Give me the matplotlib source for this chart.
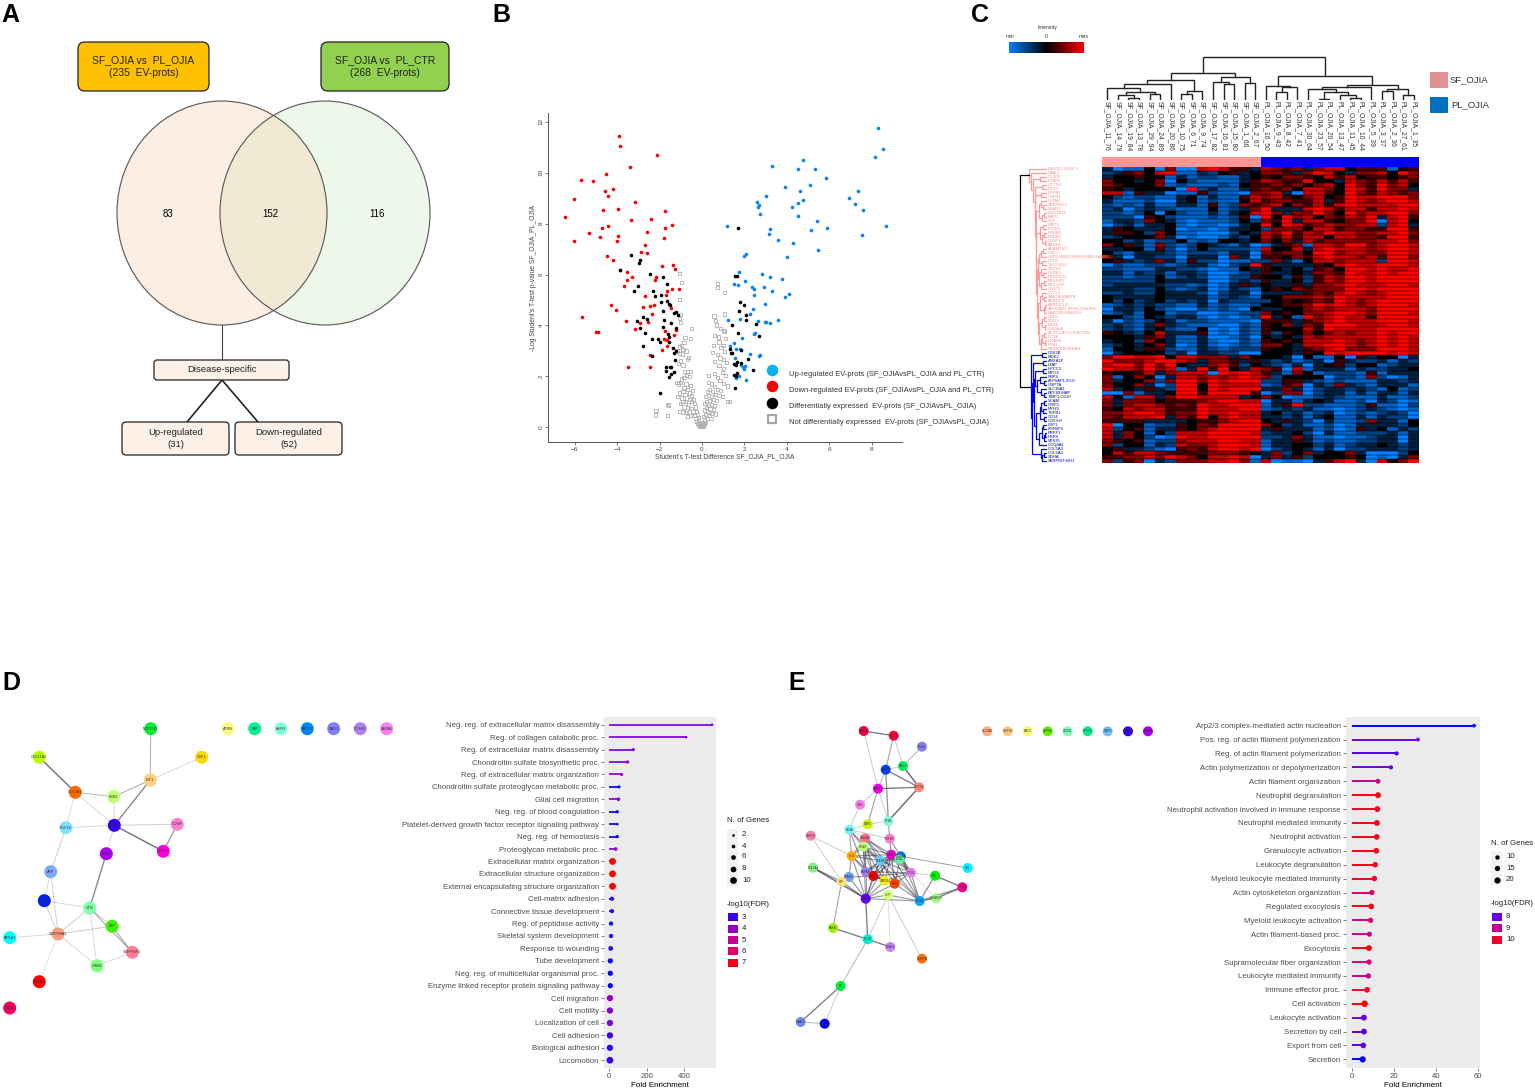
import numpy as np
import matplotlib
matplotlib.use('Agg')
import matplotlib.pyplot as plt
from matplotlib.collections import LineCollection
from matplotlib.colors import LinearSegmentedColormap
from matplotlib.patches import Ellipse, FancyBboxPatch, Rectangle

plt.rcParams['font.family'] = ['Liberation Sans', 'DejaVu Sans']

W, H = 1535, 1089

# ---- panel A: Venn
venn_counts = [83, 152, 116]
box_titles = ['SF_OJIA vs  PL_OJIA\n(235  EV-prots)', 'SF_OJIA vs  PL_CTR\n(268  EV-prots)']
split_titles = ['Up-regulated\n(31)', 'Down-regulated\n(52)']

# ---- panel B: volcano (difference, -log p)
red_x = [-6.48,-6.04,-5.71,-5.14,-4.59,-4.54,-4.45,-4.18,-3.93,-3.85,-3.41,-2.12,-4.67,-3.98,-3.18,-3.36,-2.42,-1.73,-1.40,-1.73,-2.58,-1.79,-5.31,-4.72,-4.42,-4.83,-6.04,-3.99,-3.95,-2.67,-2.86,-2.61,-4.48,-4.20,-3.87,-3.54,-3.29,-3.54,-3.69,-2.17,-2.23,-1.90,-1.35,-1.27,-2.70,-2.80,-2.45,-2.25,-1.65,-1.70,-1.42,-1.10,-1.46,-2.37,-4.28,-4.06,-5.66,-3.58,-2.53,-3.16,-2.92,-4.98,-4.92,-1.24,-1.32,-1.75,-1.78,-1.64,-1.67,-1.87,-2.44,-3.51,-2.44]
red_y = [8.25,8.98,9.71,9.66,9.29,9.96,9.08,9.35,11.43,11.05,10.24,10.68,8.55,8.57,8.86,8.14,8.18,8.48,7.93,7.83,7.66,7.42,7.62,7.81,7.89,7.49,7.30,7.33,7.51,7.15,6.87,6.86,6.73,6.56,6.18,6.11,5.92,5.79,5.55,5.92,5.77,6.35,6.37,6.23,5.16,4.71,4.75,4.79,5.34,5.20,5.45,5.42,4.67,4.46,4.79,4.59,4.32,4.18,4.15,3.85,4.08,3.74,3.74,3.81,3.64,3.80,3.47,3.43,3.19,3.04,2.85,2.37,2.37]
black_x = [-3.36,-2.91,-2.99,-3.88,-2.44,-1.82,-3.00,-3.21,-1.64,-2.33,-2.22,-1.92,-1.95,-1.67,-1.54,-1.51,-1.24,-1.32,-1.13,-1.86,-3.08,-2.77,-2.58,-1.81,-1.45,-1.82,-2.91,-2.69,-1.23,-1.59,-1.56,-2.36,-2.08,-1.97,-1.56,-2.77,-1.35,-1.24,-1.31,-2.37,-1.29,-1.71,-1.51,-1.46,-1.68,-1.32,-1.45,-1.54,-1.97,
           1.70,1.54,1.65,1.81,1.98,1.75,2.06,2.08,1.43,1.68,2.53,2.67,1.34,1.35,1.43,1.86,1.65,1.86,1.49,1.60,2.15,2.41,1.51,1.59,1.65,1.56]
black_y = [6.75,6.57,6.44,6.18,6.01,5.90,5.54,5.34,5.62,5.35,5.14,5.18,4.93,4.95,4.84,4.79,4.53,4.50,4.40,4.58,4.19,4.35,4.27,4.20,4.08,3.93,3.90,3.69,3.91,3.65,3.56,3.46,3.46,3.34,3.35,3.21,3.12,3.01,2.92,2.79,2.64,2.37,2.38,2.36,2.23,2.19,2.09,1.98,1.36,
           7.81,5.93,5.94,4.92,4.82,4.57,4.40,4.21,4.03,3.70,4.06,3.57,3.09,2.93,2.91,3.02,2.58,2.54,2.47,2.45,2.70,2.26,2.04,2.02,2.15,1.54]
blue_x = [8.29,8.55,8.18,3.30,4.75,4.51,5.33,5.83,3.90,5.11,4.64,3.02,2.61,2.69,2.66,2.72,4.23,4.53,4.78,4.53,6.93,7.34,7.20,7.61,5.44,5.90,5.13,3.21,3.14,1.19,3.58,4.31,5.49,7.56,8.68,4.01,2.09,1.98,1.76,2.85,3.21,3.76,2.04,1.53,1.71,2.34,2.47,2.92,3.30,2.44,4.09,3.92,2.96,2.41,2.28,1.24,1.81,2.66,2.97,3.02,3.19,3.60,2.48,2.47,1.90,1.49,1.34,1.59,1.79,2.26,2.74,2.70,1.54,1.95,1.82,2.04,1.97,1.76,1.59,2.09]
blue_y = [11.75,10.94,10.63,10.27,10.51,10.16,10.13,9.78,9.44,9.52,9.29,9.07,8.86,8.72,8.66,8.36,8.66,8.81,8.93,8.30,8.99,9.29,8.76,8.55,8.12,7.83,7.76,7.79,7.59,7.89,7.36,7.24,6.98,7.54,7.92,6.70,6.81,6.73,6.11,6.03,5.90,5.82,5.76,5.64,5.59,5.52,5.42,5.51,5.34,5.18,5.22,5.10,4.86,4.65,4.46,4.20,4.27,4.19,4.15,4.15,4.11,4.23,3.69,3.66,3.52,3.31,3.18,3.09,3.06,2.89,2.83,2.79,2.74,2.38,2.45,2.42,2.28,2.02,1.92,1.86]
gray_x = [-1.07,-0.98,-1.08,-1.02,-1.05,-1.0,-0.49,-0.55,-0.8,-0.85,-0.95,-0.9,-1.08,-1.18,-1.05,-0.93,-0.75,-0.62,-0.7,-1.0,-1.1,-0.9,-0.82,-0.68,-0.55,-0.72,-0.6,-0.85,-0.95,-1.18,-1.1,-1.0,-0.75,-0.55,-0.85,-0.7,-0.9,-1.05,-0.8,-0.6,-0.45,-0.5,-1.15,-0.95,-0.72,-0.58,-0.4,-0.9,-0.78,-1.02,-0.5,-0.62,-0.35,-0.85,-0.7,-0.48,-0.3,-1.05,-0.9,-0.78,-0.6,-0.42,-0.25,-0.2,-0.55,-0.7,-0.35,-0.28,-0.18,-0.15,-0.25,-0.12,-0.2,-0.08,-0.15,-0.05,-0.1,-1.6,-1.58,-1.62,-2.17,-2.18,
          0.72,0.72,1.06,1.07,0.57,0.62,0.7,0.86,1.02,1.07,1.12,0.6,0.78,0.8,0.55,0.9,1.0,1.05,0.5,0.75,0.85,1.0,1.15,0.6,1.0,0.8,0.95,1.1,0.3,0.6,0.75,0.85,1.0,1.2,0.3,0.45,0.6,0.72,0.88,0.35,0.5,0.25,0.65,0.8,0.95,0.3,0.45,0.15,0.55,0.7,1.2,1.3,0.35,0.2,0.45,0.1,0.3,0.6,0.22,0.38,0.55,0.12,0.28,0.45,0.62,0.18,0.35,0.08,0.25,0.42,0.12,0.18,0.05,0.1,0.02,0.06,0.0,0.03,-0.02]
gray_y = [6.04,5.69,5.02,4.42,4.27,4.12,3.87,3.48,3.52,3.32,3.22,3.05,3.15,3.0,2.9,2.88,3.0,2.75,2.65,2.6,2.5,2.45,2.2,2.2,2.2,2.05,2.0,1.95,1.9,1.75,1.7,1.75,1.7,1.65,1.55,1.5,1.4,1.35,1.3,1.35,1.45,1.25,1.2,1.15,1.15,1.1,1.1,1.0,1.0,0.95,1.0,0.9,0.95,0.8,0.78,0.75,0.8,0.62,0.6,0.58,0.6,0.62,0.62,0.5,0.47,0.42,0.45,0.35,0.38,0.28,0.22,0.18,0.15,0.12,0.08,0.05,0.03,0.9,0.85,0.46,0.67,0.48,
          5.64,5.48,5.3,4.45,4.37,4.18,4.02,3.88,3.8,3.78,3.5,3.62,3.55,3.35,3.2,3.12,3.2,2.98,2.95,2.85,2.72,2.65,2.55,2.58,2.32,2.42,2.15,2.05,2.05,2.12,1.95,1.85,1.72,1.62,1.75,1.7,1.6,1.5,1.45,1.5,1.42,1.4,1.3,1.25,1.2,1.25,1.22,1.2,1.1,1.05,1.02,1.02,1.05,1.02,0.9,0.92,0.85,0.85,0.78,0.72,0.7,0.68,0.62,0.55,0.52,0.5,0.45,0.42,0.35,0.35,0.28,0.2,0.2,0.12,0.1,0.05,0.02,0.14,0.08]
volcano_legend = ['Up-regulated EV-prots (SF_OJIAvsPL_OJIA and PL_CTR)',
                  'Down-regulated EV-prots (SF_OJIAvsPL_OJIA and PL_CTR)',
                  'Differentially expressed  EV-prots (SF_OJIAvsPL_OJIA)',
                  'Not differentially expressed  EV-prots (SF_OJIAvsPL_OJIA)']

# ---- panel C: heatmap, one digit per cell, 0 = min blue, 4 = black, 8 = max red
heat_rows = [
    "30114 06007 87553 76563 67745 55145", "23564 78113 24534 66536 87436 67486",
    "34454 41312 21134 54665 47574 55456", "64434 60421 11135 76558 44376 57575",
    "65444 61211 12145 56564 67486 58674", "54344 44082 31135 65647 76487 58663",
    "77153 30115 21106 67307 75486 57656", "42122 11341 31157 67546 74587 78886",
    "31112 00341 21147 56655 73587 67887", "21213 11331 51265 67465 75787 77788",
    "23023 22111 41236 83337 87577 57787", "22124 04211 31347 86366 86486 77886",
    "22205 42111 21250 84867 46576 83785", "13326 43101 11242 65837 75466 80784",
    "02313 34101 10134 84875 67667 72783", "35433 34011 01334 26664 77566 55885",
    "35542 64110 00243 76857 68776 67786", "23444 63010 01324 75757 74776 65885",
    "44231 22412 14434 64637 56666 67786", "64531 62124 32130 13561 77688 67887",
    "33441 52024 22221 74473 78777 67887", "42133 32122 21330 65664 88677 66887",
    "63033 22033 30630 55465 78776 75886", "45323 63152 20112 26314 77677 72887",
    "02112 21233 10238 53333 54787 78887", "22111 33221 01143 54342 56488 78778",
    "33132 31332 00123 53343 66587 78788", "22122 41232 00225 44252 57688 78888",
    "22222 43333 00232 53342 57688 78888", "23333 32212 01353 43353 66787 77887",
    "33322 42123 01321 45465 66688 78888", "22322 43332 02330 33335 65787 67888",
    "43333 43333 12321 44666 76877 77888", "42423 42323 03222 24545 65876 78888",
    "12323 22113 12112 44556 87876 78887", "03324 21002 12104 33446 76777 68888",
    "12314 41220 01122 64546 67887 68887", "44214 32331 01012 83418 67877 58888",
    "30212 43122 11110 55535 67877 78887", "23213 63211 10021 54636 58887 77887",
    "23213 42114 01021 54447 58777 78888", "54324 73335 01021 52546 46767 78788",
    "44435 63113 00120 43437 67777 78787", "34426 43113 10021 54547 77876 78787",
    "23434 63013 10121 66437 78876 78787", "14435 52113 21222 54435 67866 68887",
    "03444 42303 32200 44435 48788 88787", "68877 84776 66364 44304 11405 34403",
    "86667 88763 66535 32312 30532 23132", "78868 68433 67524 32130 34524 41233",
    "87768 67138 58437 65071 33313 22334", "54457 36777 08787 53164 12221 51333",
    "61464 03776 76787 62444 40221 62013", "63446 26886 87888 22553 21211 13323",
    "64463 02884 87777 12560 32632 13331", "73435 32884 87888 33630 23323 21412",
    "00613 34885 88885 02660 23313 13313", "74177 36887 77734 64011 23211 13112",
    "63666 45556 78877 03313 43112 03201", "63677 65658 77888 13582 21112 51102",
    "54767 75558 77788 12323 11012 32101", "66788 75668 77877 34231 23012 12320",
    "65777 83658 47877 33231 34113 13220", "55553 33345 56788 43532 03112 63314",
    "80441 22546 58888 64231 12013 33324", "72451 33546 78888 35333 12015 34132",
    "73641 42777 88887 23342 03112 22313", "73642 01877 88888 22363 11011 23303",
    "65451 22677 78877 13353 12112 23303", "62441 32766 78887 13344 23123 34323",
    "45332 10565 78878 02343 13022 33323", "47577 65555 66654 36246 34463 00024",
    "55667 68764 77870 36352 44454 01036", "62560 32666 77861 70110 35783 07468",
]
sample_labels = ['SF_OJIA_11_76','SF_OJIA_14_79','SF_OJIA_19_84','SF_OJIA_13_78','SF_OJIA_29_94','SF_OJIA_24_89','SF_OJIA_20_86','SF_OJIA_10_75','SF_OJIA_6_71','SF_OJIA_9_74','SF_OJIA_17_82','SF_OJIA_16_81','SF_OJIA_15_80','SF_OJIA_1_66','SF_OJIA_2_67',
                 'PL_OJIA_16_50','PL_OJIA_9_43','PL_OJIA_8_42','PL_OJIA_7_41','PL_OJIA_30_64','PL_OJIA_23_57','PL_OJIA_20_54','PL_OJIA_13_47','PL_OJIA_11_45','PL_OJIA_10_44','PL_OJIA_5_39','PL_OJIA_3_37','PL_OJIA_2_36','PL_OJIA_27_61','PL_OJIA_1_35']
# merge height between neighbouring leaves, the tree is rebuilt from these
sample_gaps = [11.7,4.7,2.3,8.3,6,16,20,5.7,9.3,27.3,17.7,16,22.7,17.3,43.3,14.3,7.7,13.3,24,10.7,1,8.3,4.7,1.7,13.3,14.7,9.3,11,5]
gene_gaps = [18,16,7,14,5,12.5,6,12,6,4,8,3,5,11,4,7,3,5,2.5,11,4,6,8,5,9,6,4,8,3,6,10.5,5,3,7,2,3,9,3,5,2,8,3,5,2,6,26.7,
             5,16,4,14,4,12,7,3,10,6,3,13,3,6,4,7,3,11,4,5,2,3,8,15,6,3,5]
gene_labels = ['IGKV1D-8;IGK-1','GAA-1','CD109','PTBN1','GCTN2','BTD2','DEFB1','CHFR1','LYRM1','SERPINF1','SSAR2','DSG2B12','MRP1','CFP','WNT3','PTPR2','PGBB1','PGBB2','CD5P1','ABHD5','ADAMTS2','GBP1',
               'HBB1;HBB2;HBB3;HBB4;LAMB1','DTD1','THOC4;E2','CNTF2','DYRK3','PRDX6;E1','PRKRIP2','MCL1;KF','CHST1','GYLL1','RAB7A;RAB7B','ARRDC3','ARRDC1;B','ARHGAP1;RPS2;CDK4P1','RAB31B;RAB31M','GSDC','DRD3','EIF4E','CHGA;A','ACTN1;ACTC1;ACTB2','PCSK','DNAH8','PYB1','SERPINB5/B6/A4']
gene_labels_blue = ['CD63B','MDK2','ANXA1P','LTAP','HPCC2','MYO6','RBP4','ATP6AP1;2GG','GNPTA','SLC38A1','EEF1B;MAP','TIMP1;CD47','VCAM','CRIP1','MYH9','TGFB1','CD14','CD59;H','LRP1','FGFBP2','PRPF1','HSP8','VPS35','COQ8A1','COL5A3','COL5A2','SDHA','SERPINF;BH1']
gene_labels_all = gene_labels + gene_labels_blue

# ---- panel D: terms, fold enrichment, -log10(FDR), number of genes
terms_d = ['Neg. reg. of extracellular matrix disassembly','Reg. of collagen catabolic proc.','Reg. of extracellular matrix disassembly','Chondroitin sulfate biosynthetic proc.','Reg. of extracellular matrix organization','Chondroitin sulfate proteoglycan metabolic proc.','Glial cell migration','Neg. reg. of blood coagulation','Platelet-derived growth factor receptor signaling pathway','Neg. reg. of hemostasis','Proteoglycan metabolic proc.','Extracellular matrix organization','Extracellular structure organization','External encapsulating structure organization','Cell-matrix adhesion','Connective tissue development','Reg. of peptidase activity','Skeletal system development','Response to wounding','Tube development','Neg. reg. of multicellular organismal proc.','Enzyme linked receptor protein signaling pathway','Cell migration','Cell motility','Localization of cell','Cell adhesion','Biological adhesion','Locomotion']
fold_d = [547,409,129,99,67,53,50,44,44,44,35,19,19,19,16,16,11,11,9,7,7,7,5,5,5,5,5,5]
fdr_d = [3.6,3.6,3.6,3.6,3.9,2.6,3.8,2.6,2.6,2.6,3.7,7.3,7.3,7.3,3.0,3.0,2.6,2.6,2.9,2.6,2.5,2.5,3.9,3.6,3.6,3.0,3.0,3.0]
genes_d = [2,2,3,3,3,3,4,3,2,3,4,10,10,10,5,5,5,5,6,7,7,7,9,9,9,9,9,10]

# ---- panel E
terms_e = ['Arp2/3 complex-mediated actin nucleation','Pos. reg. of actin filament polymerization','Reg. of actin filament polymerization','Actin polymerization or depolymerization','Actin filament organization','Neutrophil degranulation','Neutrophil activation involved in immune response','Neutrophil mediated immunity','Neutrophil activation','Granulocyte activation','Leukocyte degranulation','Myeloid leukocyte mediated immunity','Actin cytoskeleton organization','Regulated exocytosis','Myeloid leukocyte activation','Actin filament-based proc.','Exocytosis','Supramolecular fiber organization','Leukocyte mediated immunity','Immune effector proc.','Cell activation','Leukocyte activation','Secretion by cell','Export from cell','Secretion']
fold_e = [58.3,31.5,21.3,18.6,12.4,12.4,12.1,11.9,11.8,11.6,11.1,10.7,9.5,9.2,8.9,8.3,8.1,8.1,7.8,7.2,6.0,5.7,5.7,5.4,5.1]
fdr_e = [7.4,8.0,7.85,8.0,9.0,10.3,10.1,10.2,10.2,10.2,10.2,10.1,9.4,10.3,9.3,9.0,10.3,9.3,9.1,10.0,10.4,8.0,7.9,7.9,7.4]
genes_e = [6,7,9,9,13,18,18,18,17,17,16,16,15,17,15,14,18,15,15,17,22,18,18,17,20]

# ---- networks: layout of each graph as drawn, with node colours
net_d_names = ['NOTCH2','ATRN','FAP','ASPN','APLP2','DAG1','PCSK6','LAMA5','COL11A1','CSF1','IGF1','COL2A1','FBN1','VCAN','FGF18','COMP','CHST3','BGN','APP','GAS6','VTN','LBP','SERPINA1','APOA1','SERPINF1','ORM2','F13A1','CD44']
net_d_x = [150.7,228,254.7,281,307.3,333.7,360.3,386.7,39.3,201.7,150.3,75.3,113.7,114.3,66,177.3,163.3,106.3,50.7,44.3,89.7,112,58,9.7,132.3,97,39.3,9.7]
net_d_y = [728.7,728.7,728.7,728.7,728.7,728.7,728.7,728.7,757.3,757.3,780,792.3,796.7,825.3,827.7,824.3,851.3,853.7,871.7,900.7,908,926.3,934,937.7,952.3,965.7,981.7,1008]
net_d_colors = ['#00ee33','#fafa80','#00f08a','#80ffdd','#0088ff','#8080f8','#b080f0','#f880f0','#b8ff00','#ffd800','#ffd080','#ff6a00','#c0ff70','#3300ee','#80e0ff','#ff80d0','#ff00e0','#aa00ee','#80a8f8','#0022ee','#80ffa8','#40f000','#ff9980','#00ffff','#ff8095','#80ff80','#ff0000','#f00060']
net_d_edges = [('NOTCH2','IGF1',.45),('COL11A1','COL2A1',.8),('CSF1','IGF1',.25),('IGF1','FBN1',.45),('IGF1','VCAN',.7),('COL2A1','FBN1',.4),('COL2A1','VCAN',.25),('COL2A1','FGF18',.25),('FBN1','VCAN',.25),('FGF18','VCAN',.25),('VCAN','COMP',.3),('VCAN','CHST3',.8),('COMP','CHST3',.6),('VCAN','BGN',.25),('BGN','VTN',.7),('FGF18','APP',.3),('APP','GAS6',.25),('APP','SERPINA1',.3),('GAS6','VTN',.25),('GAS6','SERPINA1',.3),('VTN','SERPINA1',.3),('VTN','LBP',.3),('VTN','SERPINF1',.5),('VTN','ORM2',.25),('LBP','SERPINA1',.3),('LBP','SERPINF1',.5),('SERPINA1','APOA1',.25),('SERPINA1','ORM2',.25),('SERPINA1','F13A1',.2),('ORM2','SERPINF1',.25)]

net_e_names = ['CAPZB','ACTB','CD44','ARPC2','RAC1','ARPC3','ACTR2','GSN','CAP1','PFN1','FLNA','HSPG2','ANXA1','TGFB1','ITGB1','CLU','MMP9','S100A9','LCN2','ELANE','SKI','COL6A1','FN1','CD63','HSPA8','SPARC','ALB','GAPDH','CTSG','MPO','LTF','CD9','SLPI','ITGA2','ADAMTS','VASN','PLOD','LGALS','SERPIN','C3','ICAM1','CD81',
               'SLC3A2','HIST2H','ENO1','HSP90','SEC61','PTGS1','CAPG','ACTN1','CALM1']
net_e_x = [863.7,893.7,922,885.7,903,878,919,860,867.7,888.3,849.3,810.7,865.3,889.7,863.3,851.7,891.3,900.7,899.3,880.3,967.7,813,935,962.3,865.7,849,873.3,884.7,911,894.7,841.7,865.7,888,919.7,936,833,867.7,890.3,922,840.7,800.7,824.7,
           987.3,1007.7,1027.7,1047.7,1067.7,1087.7,1107.7,1128,1148]
net_e_y = [731,735.7,746.7,769.7,766,788.7,787.3,804.7,824.3,821,829.7,835.7,838.3,838.7,846.7,856,854.7,856.3,859.3,860.7,868,867.7,875.7,887.3,871.7,877,876,880.7,872.7,883.7,881.7,898.7,895,901,898.3,928,939.3,947,958.7,986,1022,1023.7,
           731.3,731.3,731.3,731.3,731.3,731.3,731.3,731.3,731.3]
net_e_colors = ['#f00040','#ff0030','#8a80f0','#0040ee','#00ee60','#ee00ee','#ff8878','#f880e8','#d0f000','#80f8d8','#70f8f8','#f880b0','#ff7088','#ff80d0','#c0ff70','#ffaa00','#ee00c0','#0070f0','#60f0a0','#60d0f8','#00f0ff','#80f080','#00ee00','#f00090','#a080f0','#70a0f0','#f00000','#f8f000','#e080f0','#ff4000','#ffe080','#6000ee','#d8ff80','#00aaf0','#a0f880','#a0f000','#00f0c8','#c880f0','#ff7000','#00ee40','#7088f0','#0000ee',
                '#ffaa80','#ffc880','#f8f870','#60f000','#80f8b8','#00f090','#70c0f8','#3300e8','#aa00ee']
net_e_edges = [(0,1,.7),(0,5,.3),(1,3,.5),(1,4,.3),(2,4,.4),(3,4,.3),(3,5,.4),(3,6,.7),(4,6,.8),(3,9,.6),(5,6,.7),(5,9,.3),(6,9,.8),(5,7,.3),(5,8,.5),(7,10,.3),(8,9,.3),(8,10,.3),(9,13,.5),(10,12,.3),(10,13,.3),(10,15,.5),(11,15,.3),(11,30,.3),(21,31,.8),(21,30,.6),(30,31,.6),(30,35,.5),(35,36,.7),(36,37,.7),(31,36,.7),(36,32,.3),(32,37,.2),(32,38,.3),(36,39,.4),(39,40,.7),(39,41,.3),(40,41,.4),(17,20,.3),(16,20,.3),(22,23,.7),(22,33,.6),(33,34,.7),(33,23,.6),(34,23,.7),(28,22,.3),(28,34,.2)]
net_e_core = [(12,15),(12,16),(12,19),(12,24),(12,26),(12,28),(12,33),(14,15),(14,16),(14,19),(14,24),(14,26),(14,27),(14,31),(14,33),(15,16),(15,19),(15,24),(15,25),(15,26),(15,31),(16,19),(16,24),(16,26),(16,27),(16,28),(16,29),(16,31),(16,33),(17,19),(17,24),(17,26),(17,28),(17,29),(17,33),(18,19),(18,28),(19,24),(19,26),(19,27),(19,28),(19,29),(19,31),(24,26),(24,27),(24,28),(24,29),(24,31),(25,26),(25,31),(26,27),(26,28),(26,29),(26,31),(27,28),(27,31),(28,29),(28,33),(29,31),(29,33),(31,33),(13,16),(13,28),(10,14),(10,19),(10,24),(32,33),(31,32)]

BLUE_RED = ['#0000ff', '#8a00d8', '#c00098', '#e8005c', '#ff0000']
INK = '#4d4d4d'


def axes_px(fig, x0, y0, x1, y1, **kw):
    return fig.add_axes([x0 / W, 1 - y1 / H, (x1 - x0) / W, (y1 - y0) / H], **kw)


def area(d):
    # marker area in points^2 for a diameter in pixels
    return (d * 0.72) ** 2


def draw_tree(ax, gaps, lo, hi, horizontal, color_of):
    # split at the largest gap between neighbouring leaves, returns (position, height)
    if lo == hi:
        return lo + 0.5, 0.0
    k = lo + int(np.argmax(gaps[lo:hi]))
    p1, h1 = draw_tree(ax, gaps, lo, k, horizontal, color_of)
    p2, h2 = draw_tree(ax, gaps, k + 1, hi, horizontal, color_of)
    h = gaps[k]
    pos = [p1, p1, p2, p2]
    hts = [h1, h, h, h2]
    if horizontal:
        ax.plot(hts, pos, color=color_of(lo, hi), lw=0.9, solid_joinstyle='miter')
    else:
        ax.plot(pos, hts, color=color_of(lo, hi), lw=1.0, solid_joinstyle='miter')
    return (p1 + p2) / 2, h


def rounded_box(ax, x0, y0, x1, y1, face, text, size, rad=5):
    ax.add_patch(FancyBboxPatch((x0 + rad, y0 + rad), x1 - x0 - 2 * rad, y1 - y0 - 2 * rad,
                                boxstyle='round,pad=%d,rounding_size=%d' % (rad, rad),
                                fc=face, ec='#222222', lw=0.9))
    ax.text((x0 + x1) / 2, (y0 + y1) / 2, text, ha='center', va='center', fontsize=size,
            color='#222222', linespacing=1.3)


def network(ax, xs, ys, colors, labels, segs, weights, diam, lab_size, edge_col):
    rgb = matplotlib.colors.to_rgb(edge_col)
    lc = LineCollection(segs, colors=[(*rgb, 0.85 * w) for w in weights],
                        linewidths=[0.4 + 0.8 * w for w in weights], zorder=2)
    ax.add_collection(lc)
    ax.scatter(xs, ys, s=area(diam), c=colors, linewidths=0, zorder=3)
    for x, y, n in zip(xs, ys, labels):
        ax.text(x, y, n, ha='center', va='center', fontsize=lab_size, color='#333333', zorder=4)


def lollipop(fig, box, terms, fold, fdr, genes, xlim, xticks, cmap, fmin, fmax, size_of, lw):
    ax = axes_px(fig, *box, facecolor='#ebebeb')
    n = len(terms)
    y = np.arange(n)
    colors = cmap((np.array(fdr) - fmin) / (fmax - fmin))
    ax.hlines(y, 0, fold, colors=colors, lw=lw, zorder=2)
    ax.scatter(fold, y, s=[area(size_of(g)) for g in genes], c=colors, linewidths=0, zorder=3)
    ax.set_xlim(*xlim)
    ax.set_ylim(n - 1 + 0.6, -0.6)
    ax.set_yticks(y)
    ax.set_yticklabels(terms, fontsize=5.6, color=INK)
    ax.set_xticks(xticks)
    ax.tick_params(axis='x', labelsize=5.6, labelcolor=INK, length=2, width=0.5, color=INK, pad=1.5)
    ax.tick_params(axis='y', length=2, width=0.5, color=INK, pad=1.5)
    ax.set_xlabel('Fold Enrichment', fontsize=5.8, labelpad=1.5)
    for s in ax.spines.values():
        s.set_visible(False)
    return ax


def size_d(g):
    return 1.6 + 0.52 * g


def size_e(g):
    return 2.6 + 0.18 * g


fig = plt.figure(figsize=(W / 100, H / 100), dpi=100, facecolor='white')

# full figure layer in pixel units, for boxes, keys and panel letters
canvas = axes_px(fig, 0, 0, W, H)
canvas.set_xlim(0, W)
canvas.set_ylim(H, 0)
canvas.axis('off')
canvas.set_zorder(10)

for letter, lx, ly in [('A', 10, 15), ('B', 501, 15), ('C', 980, 15), ('D', 11, 683), ('E', 797, 683)]:
    canvas.text(lx, ly, letter, fontsize=18, fontweight='bold', ha='center', va='center', color='black')

# --- A
canvas.add_patch(Ellipse((325, 213), 210, 224, fc='#eef8ea', ec='none', zorder=1))
canvas.add_patch(Ellipse((222, 213), 210, 224, fc='#f8c8a0', alpha=0.3, ec='none', zorder=1.1))
canvas.add_patch(Ellipse((222, 213), 210, 224, fc='none', ec='#555555', lw=0.8, zorder=1.2))
canvas.add_patch(Ellipse((325, 213), 210, 224, fc='none', ec='#555555', lw=0.8, zorder=1.2))
for val, vx in zip(venn_counts, [168, 270, 377]):
    canvas.text(vx, 214, str(val), ha='center', va='center', fontsize=7, zorder=3)
rounded_box(canvas, 78, 42, 209, 91, '#ffc000', box_titles[0], 7.5, rad=7)
rounded_box(canvas, 321, 42, 449, 91, '#92d050', box_titles[1], 7.5, rad=7)
canvas.plot([222, 222], [325, 360], color='#444444', lw=0.8, zorder=1)
canvas.plot([187, 222, 258], [422, 380, 422], color='#222222', lw=1.2, zorder=1)
rounded_box(canvas, 154, 360, 289, 380, '#fdf0e6', 'Disease-specific', 6.8, rad=3)
rounded_box(canvas, 122, 422, 229, 455, '#fdf0e6', split_titles[0], 6.8, rad=4)
rounded_box(canvas, 235, 422, 342, 455, '#fdf0e6', split_titles[1], 6.8, rad=4)

# --- B
ax_v = axes_px(fig, 548.3, 113.3, 901.7, 441.7)
ax_v.patch.set_visible(False)
ax_v.scatter(gray_x, gray_y, s=area(3.2), marker='s', facecolors='none', edgecolors='#b0b0b0', linewidths=0.6)
ax_v.scatter(red_x, red_y, s=area(3.6), c='#f60000', linewidths=0)
ax_v.scatter(blue_x, blue_y, s=area(3.6), c='#0a84f0', linewidths=0)
ax_v.scatter(black_x, black_y, s=area(3.6), c='#000000', linewidths=0)
ax_v.set_xlim(-7.25, 9.42)
ax_v.set_ylim(-0.565, 12.33)
ax_v.set_xticks([-6, -4, -2, 0, 2, 4, 6, 8])
ax_v.set_yticks([0, 2, 4, 6, 8, 10, 12])
ax_v.tick_params(labelsize=4.6, length=2, width=0.5, color='#444444', labelcolor='#444444', pad=1.5)
plt.setp(ax_v.get_yticklabels(), rotation=90, va='center')
ax_v.spines[['top', 'right']].set_visible(False)
ax_v.spines[['left', 'bottom']].set_color('#555555')
ax_v.spines[['left', 'bottom']].set_linewidth(0.7)
ax_v.set_xlabel("Student's T-test Difference SF_OJIA_PL_OJIA", fontsize=4.9, color='#444444', labelpad=1)
ax_v.set_ylabel("-Log Student's T-test p-value SF_OJIA_PL_OJIA", fontsize=4.9, color='#444444', labelpad=1)
for ky, ty, col, txt in zip([370, 386, 403], [375, 391, 407], ['#00b0f0', '#ff0000', '#000000'], volcano_legend):
    canvas.scatter([771.5], [ky], s=area(11.5), c=col, linewidths=0, zorder=5)
    canvas.text(789, ty, txt, fontsize=5.4, va='center', color='#333333', zorder=5)
canvas.scatter([772], [418.5], s=area(8), marker='s', fc='white', ec='#a6a6a6', lw=1.6, zorder=5)
canvas.text(789, 423, volcano_legend[3], fontsize=5.4, va='center', color='#333333', zorder=5)

# --- C
heat = np.array([[int(c) for c in row.replace(' ', '')] for row in heat_rows])
n_rows, n_cols = heat.shape
intensity = LinearSegmentedColormap.from_list('intensity', ['#0080ff', '#000000', '#ff0000'])
ax_h = axes_px(fig, 1102, 167, 1419, 463)
ax_h.pcolormesh(heat, cmap=intensity, vmin=0, vmax=8)
ax_h.hlines(np.arange(1, n_rows), 0, n_cols, colors='black', lw=0.35)
ax_h.set_xlim(0, n_cols)
ax_h.set_ylim(n_rows, 0)
ax_h.axis('off')

canvas.add_patch(Rectangle((1102, 157), 158.5, 10, fc='#ff9696', ec='none'))
canvas.add_patch(Rectangle((1260.5, 157), 158.5, 10, fc='#0000ff', ec='none'))

ax_ct = axes_px(fig, 1102, 55, 1419, 100)
draw_tree(ax_ct, sample_gaps, 0, n_cols - 1, False, lambda lo, hi: '#222222')
ax_ct.set_xlim(0, n_cols)
ax_ct.set_ylim(0, 45)
ax_ct.axis('off')
for i, lab in enumerate(sample_labels):
    canvas.text(1102 + (i + 0.5) * 317 / n_cols, 101, lab, rotation=270, ha='center', va='top', fontsize=4.9, color='#333333')

ax_rt = axes_px(fig, 1018, 167, 1047, 463)
n_pink = len(gene_labels)


def row_color(lo, hi):
    if lo < n_pink <= hi:
        return 'black'
    return '#ff9a9a' if hi < n_pink else '#0000ff'


draw_tree(ax_rt, gene_gaps, 0, n_rows - 1, True, row_color)
ax_rt.set_xlim(29, 0)
ax_rt.set_ylim(n_rows, 0)
ax_rt.axis('off')
for i, lab in enumerate(gene_labels_all):
    canvas.text(1048, 167 + (i + 0.5) * 296 / n_rows, lab, fontsize=3.0, va='center',
                color='#ff8a8a' if i < n_pink else '#0000e0')

ax_cb = axes_px(fig, 1009, 42, 1084, 53)
ax_cb.imshow(np.linspace(0, 1, 256)[None, :], aspect='auto', cmap=intensity)
ax_cb.axis('off')
canvas.text(1047, 28, 'Intensity', fontsize=3.8, ha='center', va='center', color='#333333')
for tx, tl in zip([1010, 1046, 1084], ['min', '0', 'max']):
    canvas.text(tx, 36, tl, fontsize=3.8, ha='center', va='center', color='#333333')
canvas.add_patch(FancyBboxPatch((1431, 73), 16, 14, boxstyle='round,pad=1,rounding_size=1', fc='#de9294', ec='none'))
canvas.add_patch(FancyBboxPatch((1431, 98), 16, 14, boxstyle='round,pad=1,rounding_size=1', fc='#0070c0', ec='none'))
canvas.text(1450, 80, 'SF_OJIA', fontsize=6.8, va='center', color='#333333')
canvas.text(1451, 105, 'PL_OJIA', fontsize=6.8, va='center', color='#333333')

# --- networks
idx_d = {n: i for i, n in enumerate(net_d_names)}
segs_d = [[(net_d_x[idx_d[a]], net_d_y[idx_d[a]]), (net_d_x[idx_d[b]], net_d_y[idx_d[b]])] for a, b, _ in net_d_edges]
network(canvas, net_d_x, net_d_y, net_d_colors, net_d_names, segs_d, [w for _, _, w in net_d_edges], 13, 2.7, '#333333')

edges_e = net_e_edges + [(a, b, .55) for a, b in net_e_core]
segs_e = [[(net_e_x[a], net_e_y[a]), (net_e_x[b], net_e_y[b])] for a, b, _ in edges_e]
network(canvas, net_e_x, net_e_y, net_e_colors, net_e_names, segs_e, [w for _, _, w in edges_e], 10, 2.2, '#22223a')

# --- D and E lollipops
cmap_d = LinearSegmentedColormap.from_list('fdr', BLUE_RED)
lollipop(fig, (604, 717.3, 716, 1067.7), terms_d, fold_d, fdr_d, genes_d, (-26.5, 568), [0, 200, 400], cmap_d, 2.5, 7.3, size_d, 1.25)
lollipop(fig, (1345.7, 717.3, 1480, 1067.7), terms_e, fold_e, fdr_e, genes_e, (-3.0, 61.1), [0, 20, 40, 60], cmap_d, 7.4, 10.4, size_e, 1.4)


def ggplot_legend(x_key, x_lab, y_title1, size_keys, size_ys, size_of, y_title2, fdr_keys, fdr_ys, fmin, fmax):
    canvas.text(x_key - 6, y_title1, 'N. of Genes', fontsize=5.7, va='center', color='#222222')
    for g, yy in zip(size_keys, size_ys):
        canvas.add_patch(Rectangle((x_key - 5.7, yy - 5.7), 11.4, 11.4, fc='#f2f2f2', ec='none'))
        canvas.scatter([x_key], [yy], s=area(size_of(g)), c='black', linewidths=0, zorder=3)
        canvas.text(x_lab, yy, str(g), fontsize=5.7, va='center', color='#222222')
    canvas.text(x_key - 6, y_title2, '-log10(FDR)', fontsize=5.7, va='center', color='#222222')
    for v, yy in zip(fdr_keys, fdr_ys):
        canvas.add_patch(Rectangle((x_key - 5, yy - 4), 10, 8, fc=cmap_d((v - fmin) / (fmax - fmin)), ec='none'))
        canvas.text(x_lab, yy, str(v), fontsize=5.7, va='center', color='#222222')


ggplot_legend(732.7, 742, 821, [2, 4, 6, 8, 10], [834.7, 846, 857, 868.7, 880], size_d,
              904, [3, 4, 5, 6, 7], [917.3, 928.7, 940, 951.3, 962.7], 2.5, 7.3)
ggplot_legend(1496.7, 1506, 843.7, [10, 15, 20], [857, 868.3, 879.7], size_e,
              903.7, [8, 9, 10], [916.7, 928.3, 939.7], 7.4, 10.4)

fig.savefig('out.png', dpi=100, facecolor='white')
